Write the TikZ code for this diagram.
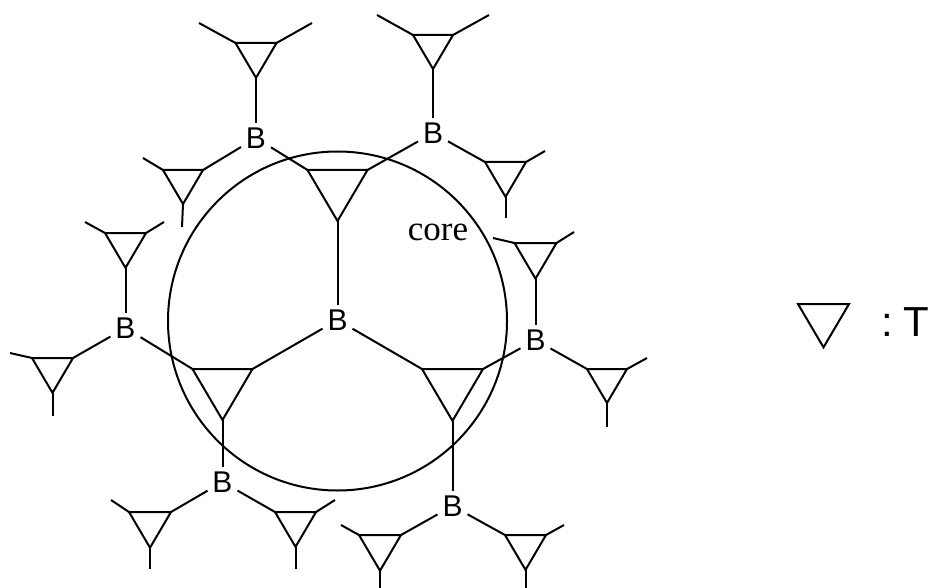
\documentclass[tikz,border=0pt]{standalone}
\usepackage{fontspec}
\setmainfont{Liberation Sans}
\newfontfamily\timesfont{Liberation Serif}

\tikzset{
  bnode/.style={inner sep=4pt,font=\fontsize{30}{30}\selectfont},
}

\begin{document}
\begin{tikzpicture}[x=1pt, y=-1pt, line width=2pt]
  \useasboundingbox (0,0) rectangle (933,588);

  % Core
  \node[draw,circle,minimum size=339pt,inner sep=0pt] (Core) at (337.5,321) {};
  \node[anchor=base,inner sep=0pt,font=\timesfont\fontsize{35}{35}\selectfont] (CoreLabel) at (438,240) {core};

  % Triangles: name/top centre x/top y/width
  \foreach \n/\x/\y/\w in {C1/337.5/170/60, C2/222.5/369/60, C3/452.5/369/61,
      T1/256/43/41, T2/183/170/40, T3/433/35/40, T4/505.5/162/41,
      T5/125.5/233/41, T6/52.5/358/41, T7/150/512/42, T8/295.5/512/41,
      T9/380/535/42, T10/525.5/535/41, T11/535.5/243/42, T12/607/369/40,
      L/823.5/304/51}{
    \coordinate (\n-l) at ({\x-\w/2},\y);
    \coordinate (\n-r) at ({\x+\w/2},\y);
    \coordinate (\n-a) at (\x,{\y+0.85*\w});
    \draw (\n-l) -- (\n-r) -- (\n-a) -- cycle;
  }

  % Nodes
  \node[bnode] (B0) at (337.5,320) {B};
  \node[bnode] (B1) at (256,138) {B};
  \node[bnode] (B2) at (433,133) {B};
  \node[bnode] (B3) at (125.5,328) {B};
  \node[bnode] (B4) at (222.5,482) {B};
  \node[bnode] (B5) at (452.5,506) {B};
  \node[bnode] (B6) at (535.5,340) {B};

  % Legend
  \node[anchor=base east,inner sep=0pt,font=\fontsize{42}{42}\selectfont] (Legend) at (930,336) {:\hspace{0.25em}T};

  % Edges
  \foreach \t/\b in {C1-a/B0, C2-r/B0, C3-l/B0,
      T1-a/B1, T2-r/B1, C1-l/B1,
      T3-a/B2, C1-r/B2, T4-l/B2,
      T5-a/B3, T6-r/B3, C2-l/B3,
      C2-a/B4, T7-r/B4, T8-l/B4,
      C3-a/B5, T9-r/B5, T10-l/B5,
      T11-a/B6, C3-r/B6, T12-l/B6}
    \draw (\t) -- (\b);

  % Free ends
  \foreach \s/\x/\y in {T1-l/199/23, T1-r/312/23, T2-l/143/158, T2-a/182/227,
      T3-l/377/15, T3-r/489/15, T4-r/545/151, T4-a/505.5/218,
      T5-l/85/222, T5-r/164/222, T6-l/10/353, T6-a/52.5/416,
      T7-l/111/500, T7-a/150/569, T8-r/335/500, T8-a/295.5/569,
      T9-l/341/525, T9-a/380/590, T10-r/564/525, T10-a/525.5/590,
      T11-l/493/238, T11-r/574/232, T12-r/647/358, T12-a/607/427}{
    \coordinate (\s-end) at (\x,\y);
    \draw (\s) -- (\s-end);
  }
\end{tikzpicture}
\end{document}
